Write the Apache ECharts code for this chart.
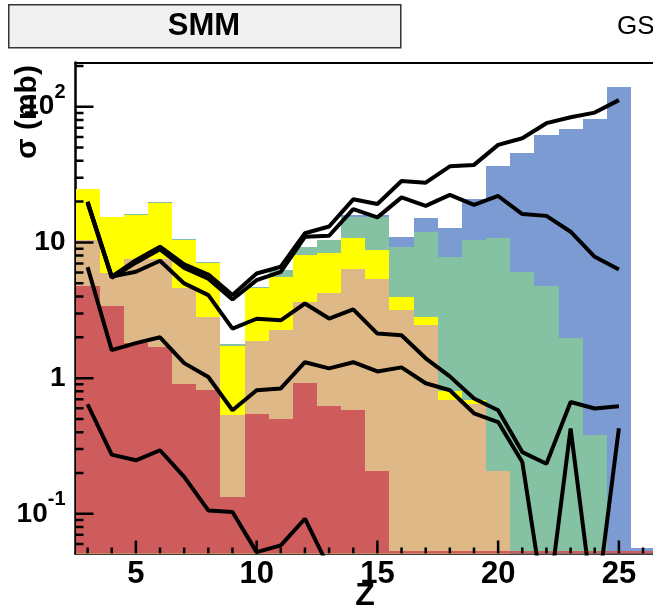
<!DOCTYPE html>
<html>
<head>
<meta charset="utf-8">
<style>
  html, body { margin: 0; padding: 0; background: #ffffff; }
  #chart { width: 653px; height: 609px; }
</style>
<script src="https://cdn.jsdelivr.net/npm/echarts@6.0.0/dist/echarts.min.js"></script>
</head>
<body>
<div id="chart"></div>
<script>
// Fragment charge Z, histogram bin centres (bin width 1)
const zBins = [3, 4, 5, 6, 7, 8, 9, 10, 11, 12, 13, 14, 15, 16, 17, 18, 19, 20, 21, 22, 23, 24, 25, 26];

// Stacked cross sections sigma (mb): cumulative height of each band, bottom band first
const redTop    = [4.77, 3.39, 1.82, 1.70, 0.912, 0.824, 0.133, 0.548, 0.503, 0.922, 0.62, 0.58, 0.207,
                   0.053, 0.053, 0.053, 0.053, 0.053, 0.053, 0.053, 0.053, 0.053, 0.053, 0.053];
const tanTop    = [10.4, 5.94, 7.50, 7.50, 4.58, 2.83, 0.532, 1.88, 2.26, 3.65, 4.23, 6.33, 5.34,
                   3.17, 2.46, 0.687, 0.649, 0.207, 0, 0, 0, 0, 0, 0];
const yellowTop = [24.7, 15.3, 15.9, 19.6, 10.4, 7.01, 1.73, 4.58, 5.58, 8.07, 8.31, 10.7, 8.79,
                   3.97, 2.83, 0.80, 0.695, 0.207, 0, 0, 0, 0, 0, 0];
const greenTop  = [24.9, 15.5, 16.1, 19.9, 10.6, 7.12, 1.78, 4.71, 6.26, 9.29, 10.4, 15.3, 15.3,
                   9.29, 12.0, 7.85, 10.5, 10.7, 6.08, 4.79, 1.98, 0.379, 0, 0];
const blueTop   = [24.9, 15.5, 16.1, 19.9, 10.6, 7.12, 1.78, 4.71, 6.26, 9.29, 10.4, 15.9, 15.9,
                   10.9, 15.1, 12.7, 20.8, 36.6, 45.5, 62.0, 68.3, 81.0, 141, 0.056];

// Model curves, one point per integer Z
const zLine  = [3, 4, 5, 6, 7, 8, 9, 10, 11, 12, 13, 14, 15, 16, 17, 18, 19, 20, 21, 22, 23, 24, 25];
const curve1 = [20.0, 5.6, 7.4, 9.3, 6.9, 5.8, 4.1, 5.91, 6.62, 11.7, 13.1, 20.8, 19.2,
                28.4, 27.6, 36.4, 37.3, 52.4, 58.6, 75.7, 83.8, 90.6, 112];
const curve2 = [19.6, 5.5, 7.1, 8.9, 6.5, 5.4, 3.8, 5.28, 6.08, 11.0, 11.2, 17.6, 15.3,
                21.5, 18.6, 22.4, 18.9, 22.0, 16.2, 15.7, 12.0, 7.84, 6.33];
const curve3 = [19.8, 5.6, 6.08, 7.33, 4.99, 4.09, 2.32, 2.74, 2.67, 3.55, 2.75, 3.21, 2.13,
                2.07, 1.40, 1.03, 0.707, 0.58, 0.285, 0.234, 0.667, 0.597, 0.62];
const curve4 = [6.58, 1.61, 1.81, 2.0, 1.29, 1.02, 0.58, 0.814, 0.84, 1.31, 1.18, 1.31, 1.12,
                1.20, 0.917, 0.814, 0.551, 0.475, 0.241, 0.017, 0.425, 0.017, 0.427];
const curve5 = [0.642, 0.273, 0.248, 0.294, 0.187, 0.106, 0.103, 0.0522, 0.0585, 0.092, 0.040,
                null, null, null, null, null, null, null, null, null, null, null, null];

// Axis ranges and tick positions
const X_MIN = 2.5, X_MAX = 27;
const Y_MIN = 0.051, Y_MAX = 212;
const xMajorTicks = [5, 10, 15, 20, 25];
const xMinorTicks = [3, 4, 6, 7, 8, 9, 11, 12, 13, 14, 16, 17, 18, 19, 21, 22, 23, 24, 26];
const yMajorTicks = [0.1, 1, 10, 100];
const yMinorTicks = [0.06, 0.07, 0.08, 0.09, 0.2, 0.3, 0.4, 0.5, 0.6, 0.7, 0.8, 0.9,
                     2, 3, 4, 5, 6, 7, 8, 9, 20, 30, 40, 50, 60, 70, 80, 90, 200];

const FONT = 'Liberation Sans';
const BIN_HALF = 0.5;
const TICK_W = 2.5;

function bandSeries(name, tops, color) {
  return {
    type: 'custom',
    name: name,
    xAxisIndex: 0,
    yAxisIndex: 0,
    clip: true,
    silent: true,
    z: 2,
    data: zBins.map((z, i) => [z, tops[i]]).filter(d => d[1] > 0),
    renderItem: function (params, api) {
      const z = api.value(0);
      const top = api.value(1);
      const p0 = api.coord([z - BIN_HALF, top]);
      const p1 = api.coord([z + BIN_HALF, Y_MIN]);
      const x0 = Math.round(p0[0]), x1 = Math.round(p1[0]);
      const y0 = Math.round(p0[1]), y1 = Math.round(p1[1]);
      return {
        type: 'rect',
        shape: { x: x0, y: y0, width: x1 - x0, height: y1 - y0 },
        style: { fill: color }
      };
    }
  };
}

function curveSeries(name, values) {
  return {
    type: 'line',
    name: name,
    xAxisIndex: 0,
    yAxisIndex: 0,
    data: zLine.map((z, i) => [z, values[i]]),
    symbol: 'none',
    clip: true,
    silent: true,
    connectNulls: false,
    lineStyle: { color: '#000000', width: 4, join: 'bevel' },
    z: 5
  };
}

// Inward tick marks placed through the axis scales, drawn as thin filled bars.
// Each item carries its tick value plus an interior value on the other axis.
function xTickSeries(values, len) {
  return {
    type: 'custom', xAxisIndex: 0, yAxisIndex: 0, clip: true, z: 3,
    data: values.map(v => [v, 1]),
    renderItem: function (params, api) {
      const p = api.coord([api.value(0), Y_MIN]);
      return {
        type: 'rect',
        shape: { x: p[0] - TICK_W / 2, y: p[1] - len, width: TICK_W, height: len },
        style: { fill: '#000000' }
      };
    }
  };
}

function yTickSeries(values, len) {
  return {
    type: 'custom', xAxisIndex: 0, yAxisIndex: 0, clip: true, z: 3,
    data: values.map(v => [10, v]),
    renderItem: function (params, api) {
      const p = api.coord([X_MIN, api.value(1)]);
      return {
        type: 'rect',
        shape: { x: p[0], y: p[1] - TICK_W / 2, width: len, height: TICK_W },
        style: { fill: '#000000' }
      };
    }
  };
}

function yLabel(v) {
  if (Math.abs(v - 100) < 1e-9) return '{n|10}{s|2}';
  if (Math.abs(v - 10) < 1e-9) return '{m|10}';
  if (Math.abs(v - 1) < 1e-9) return '{m|1}';
  if (Math.abs(v - 0.1) < 1e-9) return '{n|10}{s|-1}';
  return '';
}

const axisText = { fontFamily: FONT, fontWeight: 'bold', color: '#000' };

const chart = echarts.init(document.getElementById('chart'), null, { renderer: 'canvas' });

chart.setOption({
  animation: false,
  backgroundColor: '#ffffff',
  grid: {
    left: 75.5, right: -14.2, top: 62.5, bottom: 55.5,
    containLabel: false,
    outerBoundsMode: 'none'
  },
  xAxis: [
    {
      type: 'value', min: X_MIN, max: X_MAX, position: 'bottom',
      axisLine: { show: true, lineStyle: { color: '#000', width: 2.5 } },
      axisTick: { show: false },
      axisLabel: { show: true, margin: 5, fontSize: 31, customValues: xMajorTicks, ...axisText },
      splitLine: { show: false }
    },
    {
      // top edge of the frame
      type: 'value', min: X_MIN, max: X_MAX, position: 'top',
      axisLine: { show: true, lineStyle: { color: '#000', width: 2 } },
      axisTick: { show: false },
      axisLabel: { show: false },
      splitLine: { show: false }
    }
  ],
  yAxis: {
    type: 'log', logBase: 10, min: Y_MIN, max: Y_MAX, position: 'left',
    axisLine: { show: true, lineStyle: { color: '#000', width: 2.5 } },
    axisTick: { show: false },
    axisLabel: {
      show: true, margin: 10, customValues: yMajorTicks,
      formatter: yLabel,
      rich: {
        n: { fontFamily: FONT, fontWeight: 'bold', fontSize: 28, color: '#000', lineHeight: 48 },
        m: { fontFamily: FONT, fontWeight: 'bold', fontSize: 28, color: '#000', lineHeight: 30 },
        s: { fontFamily: FONT, fontWeight: 'bold', fontSize: 20, color: '#000', padding: [0, 0, 28, 0] }
      }
    },
    splitLine: { show: false }
  },
  graphic: [
    {
      type: 'rect', left: 8, top: 4, z: 10,
      shape: { width: 392, height: 43 },
      style: { fill: '#f0f0f0', stroke: '#333333', lineWidth: 1.5 }
    },
    {
      type: 'text', x: 204, y: 26, z: 11,
      style: { text: 'SMM', fontFamily: FONT, fontWeight: 'bold', fontSize: 31, fill: '#000',
               textAlign: 'center', textVerticalAlign: 'middle' }
    },
    {
      type: 'text', x: 617, y: 27, z: 11,
      style: { text: 'GS', fontFamily: FONT, fontSize: 26, fill: '#000',
               textAlign: 'left', textVerticalAlign: 'middle' }
    },
    {
      type: 'text', x: 28, y: 112, rotation: Math.PI / 2, z: 11,
      style: { text: 'σ (mb)', fontFamily: FONT, fontWeight: 'bold', fontSize: 30, fill: '#000',
               textAlign: 'center', textVerticalAlign: 'middle' }
    },
    {
      type: 'text', x: 365, y: 596, z: 11,
      style: { text: 'Z', fontFamily: FONT, fontWeight: 'bold', fontSize: 32, fill: '#000',
               textAlign: 'center', textVerticalAlign: 'middle' }
    }
  ],
  series: [
    bandSeries('blue', blueTop, '#7b9bd2'),
    bandSeries('green', greenTop, '#85c1a3'),
    bandSeries('yellow', yellowTop, '#ffff00'),
    bandSeries('tan', tanTop, '#deb887'),
    bandSeries('red', redTop, '#cf5c5c'),
    xTickSeries(xMajorTicks, 13),
    xTickSeries(xMinorTicks, 6),
    yTickSeries(yMajorTicks, 18),
    yTickSeries(yMinorTicks, 8),
    curveSeries('curve1', curve1),
    curveSeries('curve2', curve2),
    curveSeries('curve3', curve3),
    curveSeries('curve4', curve4),
    curveSeries('curve5', curve5)
  ]
});
</script>
</body>
</html>
